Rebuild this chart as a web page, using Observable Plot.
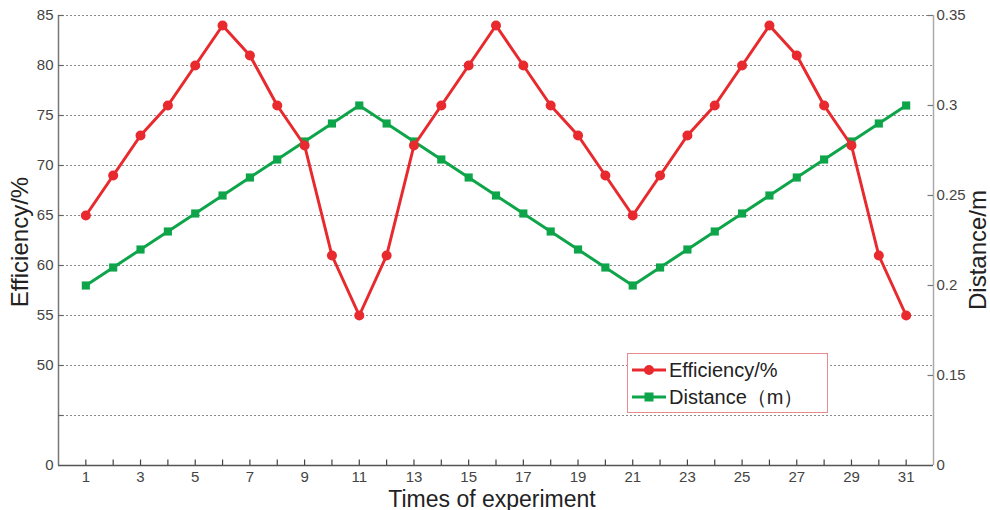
<!DOCTYPE html>
<html>
<head>
<meta charset="utf-8">
<script src="https://cdn.jsdelivr.net/npm/d3@7"></script>
<script src="https://cdn.jsdelivr.net/npm/@observablehq/plot@0.6"></script>
<style>
  html, body { margin: 0; padding: 0; background: #fff; }
  #wrap { position: relative; width: 990px; height: 510px; font-family: "Liberation Sans", Arial, sans-serif; }
  .lbl { position: absolute; font-size: 24px; color: #222; white-space: nowrap; line-height: 1; }
  #legend { position: absolute; left: 627px; top: 353px; width: 199px; height: 58px; border: 1px solid #e98a8c; background: #fff; }
  .row { position: absolute; left: 4px; height: 26px; display: flex; align-items: center; font-size: 20px; color: #222; }
  .row svg { margin-right: 3px; }
</style>
</head>
<body>
<div id="wrap"></div>
<script>
// ---- data ----
const trials = [1,2,3,4,5,6,7,8,9,10,11,12,13,14,15,16,17,18,19,20,21,22,23,24,25,26,27,28,29,30,31];
const efficiency = [65,69,73,76,80,84,81,76,72,61,55,61,72,76,80,84,80,76,73,69,65,69,73,76,80,84,81,76,72,61,55];
const distance = [0.20,0.21,0.22,0.23,0.24,0.25,0.26,0.27,0.28,0.29,0.30,0.29,0.28,0.27,0.26,0.25,0.24,0.23,0.22,0.21,0.20,0.21,0.22,0.23,0.24,0.25,0.26,0.27,0.28,0.29,0.30];
const xTicks = [1,2,3,4,5,6,7,8,9,10,11,12,13,14,15,16,17,18,19,20,21,22,23,24,25,26,27,28,29,30,31];
const xLabelTicks = [1,3,5,7,9,11,13,15,17,19,21,23,25,27,29,31];
const leftTicks = [40,45,50,55,60,65,70,75,80,85];
const leftLabels = ["0","","50","55","60","65","70","75","80","85"];
const rightTicks = [0.10,0.15,0.20,0.25,0.30,0.35];
const rightLabels = ["0","0.15","0.2","0.25","0.3","0.35"];

const RED = "#e8292d", GREEN = "#0ea54a";
// map distance onto the efficiency scale (right axis: 0.10..0.35 ↔ 40..85)
const toE = d => 40 + (d - 0.10) * 180;

const effData = trials.map((t, i) => ({t, v: efficiency[i]}));
const disData = trials.map((t, i) => ({t, v: toE(distance[i])}));
const rightPos = rightTicks.map(toE);

const lookup = (ticks, labels) => v => {
  const i = ticks.findIndex(t => Math.abs(t - v) < 1e-6);
  return i < 0 ? "" : labels[i];
};

const chart = Plot.plot({
  width: 990, height: 510,
  marginLeft: 58, marginRight: 57, marginTop: 15, marginBottom: 45,
  style: {fontFamily: "Liberation Sans, Arial, sans-serif", fontSize: "15px", color: "#444", background: "#fff"},
  x: {domain: [0, 32]},
  y: {domain: [40, 85]},
  marks: [
    Plot.gridY(leftTicks.slice(1), {stroke: "#8a8a8a", strokeOpacity: 1, strokeDasharray: "2,2", strokeWidth: 1}),
    Plot.ruleX([0], {stroke: "#777", strokeWidth: 1.5}),
    Plot.ruleX([32], {stroke: "#aaa", strokeWidth: 1.5}),
    Plot.ruleY([40], {stroke: "#555", strokeWidth: 1.5}),
    Plot.axisX(xLabelTicks, {anchor: "bottom", tickSize: 0, tickPadding: 6, tickFormat: d => String(d), label: null, fill: "#444", fontSize: 15}),
    Plot.ruleX(xTicks, {x: d => d, y1: 40, y2: 40.55, stroke: "#444", strokeWidth: 1.2}),
    Plot.axisY(leftTicks, {anchor: "left", tickSize: 0, tickPadding: 5, tickFormat: lookup(leftTicks, leftLabels), label: null, fill: "#444", fontSize: 15}),
    Plot.ruleY(leftTicks.slice(1), {y: d => d, x1: 0, x2: 0.2, stroke: "#666", strokeWidth: 1.2}),
    Plot.axisY(rightPos, {anchor: "right", tickSize: 0, tickPadding: 3, tickFormat: lookup(rightPos, rightLabels), label: null, fill: "#444", fontSize: 15}),
    Plot.ruleY(rightPos.slice(1), {y: d => d, x1: 31.8, x2: 32, stroke: "#777", strokeWidth: 1.2}),
    Plot.line(disData, {x: "t", y: "v", stroke: GREEN, strokeWidth: 3}),
    Plot.dot(disData, {x: "t", y: "v", symbol: "square", r: 4.6, fill: GREEN}),
    Plot.line(effData, {x: "t", y: "v", stroke: RED, strokeWidth: 3}),
    Plot.dot(effData, {x: "t", y: "v", symbol: "circle", r: 5, fill: RED})
  ]
});

const wrap = document.getElementById("wrap");
chart.style.position = "absolute";
chart.style.left = "0px";
chart.style.top = "0px";
wrap.appendChild(chart);

function addLabel(text, css) {
  const d = document.createElement("div");
  d.className = "lbl";
  d.textContent = text;
  Object.assign(d.style, css);
  wrap.appendChild(d);
}
addLabel("Efficiency/%", {left: "20px", top: "242px", transform: "translate(-50%,-50%) rotate(-90deg)"});
addLabel("Distance/m", {left: "978px", top: "250px", transform: "translate(-50%,-50%) rotate(-90deg)"});
addLabel("Times of experiment", {left: "492px", top: "499px", fontSize: "23px", transform: "translate(-50%,-50%)"});

const legend = document.createElement("div");
legend.id = "legend";
legend.innerHTML =
  `<div class="row" style="top:3px"><svg width="34" height="12"><line x1="0" y1="6" x2="34" y2="6" stroke="${RED}" stroke-width="3"/><circle cx="17" cy="6" r="5" fill="${RED}"/></svg>Efficiency/%</div>` +
  `<div class="row" style="top:30px"><svg width="34" height="12"><line x1="0" y1="6" x2="34" y2="6" stroke="${GREEN}" stroke-width="3"/><rect x="12.5" y="1.5" width="9" height="9" fill="${GREEN}"/></svg>Distance（m）</div>`;
wrap.appendChild(legend);
</script>
</body>
</html>
